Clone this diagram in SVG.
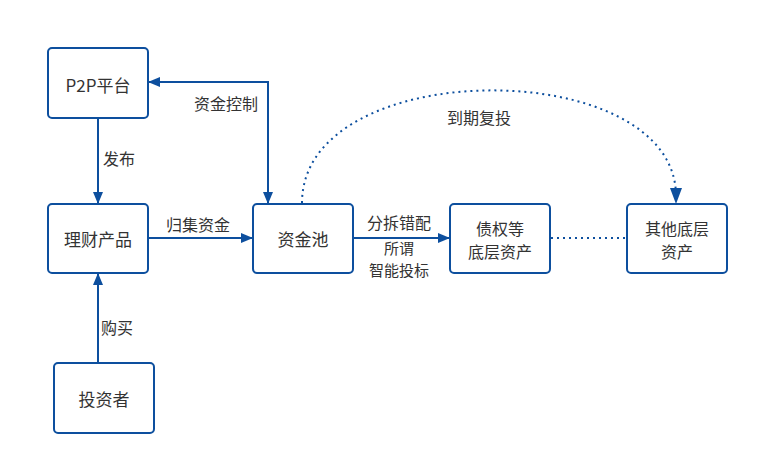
<svg xmlns="http://www.w3.org/2000/svg" width="759" height="465" viewBox="0 0 759 465">
  <style>
    .box { fill: #ffffff; stroke: #0d4f9e; stroke-width: 2; }
    .t { font-family: "Noto Sans CJK SC", "Noto Sans", sans-serif; font-size: 17px; fill: #333333; text-anchor: middle; dominant-baseline: central; }
    .t2 { font-family: "Noto Sans CJK SC", "Noto Sans", sans-serif; font-size: 16px; fill: #333333; text-anchor: middle; dominant-baseline: central; }
    .lbl { font-family: "Noto Sans CJK SC", "Noto Sans", sans-serif; font-size: 16px; fill: #333333; text-anchor: middle; dominant-baseline: central; }
    .lbl2 { font-family: "Noto Sans CJK SC", "Noto Sans", sans-serif; font-size: 15px; fill: #333333; text-anchor: middle; dominant-baseline: central; }
    .c { fill: none; stroke: #0d4f9e; stroke-width: 2; }
    .d { fill: none; stroke: #0d4f9e; stroke-width: 2; stroke-dasharray: 2 4; }
  </style>
  <defs>
    <marker id="ah" markerUnits="userSpaceOnUse" markerWidth="12" markerHeight="10" viewBox="0 0 12 10" refX="12" refY="5" orient="auto-start-reverse">
      <path d="M0,0 L12,5 L0,10 z" fill="#0d4f9e"/>
    </marker>
  </defs>
  <rect width="759" height="465" fill="#ffffff"/>

  <g id="connectors">
    <path class="c" d="M98,119 L98,204" marker-end="url(#ah)"/>
    <path class="c" d="M98,362 L98,273" marker-end="url(#ah)"/>
    <path class="c" d="M149,238 L253,238" marker-end="url(#ah)"/>
    <path class="c" d="M148,82 L268,82 L268,204" marker-start="url(#ah)" marker-end="url(#ah)"/>
    <path class="c" d="M354,238 L450,238" marker-end="url(#ah)"/>
    <path class="d" d="M551,238 L627,238"/>
    <path class="d" d="M302,203 C302,54 676,54 676,196"/>
    <path d="M670,188 L676,204 L682,188 z" fill="#0d4f9e"/>
    <text class="lbl" x="119" y="158">发布</text>
    <text class="lbl" x="117" y="327">购买</text>
    <text class="lbl" x="198" y="224">归集资金</text>
    <text class="lbl" x="226" y="103">资金控制</text>
    <text class="lbl" x="399" y="222">分拆错配</text>
    <text class="lbl2" x="399" y="247">所谓</text>
    <text class="lbl2" x="399" y="269">智能投标</text>
    <text class="lbl" x="479" y="117">到期复投</text>
  </g>

  <g id="p2p">
    <rect class="box" x="48" y="48" width="100" height="70" rx="4"/>
    <text class="t" x="98" y="84">P2P平台</text>
  </g>
  <g id="product">
    <rect class="box" x="48" y="204" width="100" height="69" rx="4"/>
    <text class="t" x="98" y="238">理财产品</text>
  </g>
  <g id="investor">
    <rect class="box" x="54" y="363" width="100" height="70" rx="4"/>
    <text class="t" x="104" y="398">投资者</text>
  </g>
  <g id="pool">
    <rect class="box" x="253" y="204" width="100" height="69" rx="4"/>
    <text class="t" x="303" y="238">资金池</text>
  </g>
  <g id="debt">
    <rect class="box" x="450" y="204" width="100" height="69" rx="4"/>
    <text class="t2" x="500" y="228">债权等</text>
    <text class="t2" x="500" y="251">底层资产</text>
  </g>
  <g id="other">
    <rect class="box" x="627" y="204" width="100" height="69" rx="4"/>
    <text class="t2" x="677" y="228">其他底层</text>
    <text class="t2" x="677" y="251">资产</text>
  </g>
</svg>
